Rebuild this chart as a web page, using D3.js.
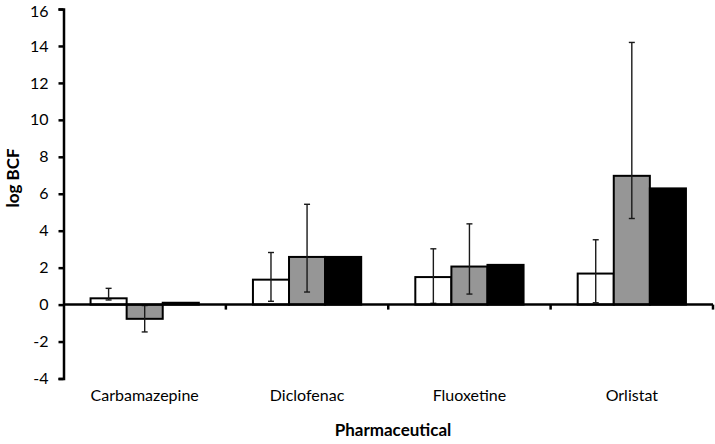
<!DOCTYPE html>
<html>
<head>
<meta charset="utf-8">
<script src="https://cdn.jsdelivr.net/npm/d3@7"></script>
<style>
  html, body { margin: 0; padding: 0; background: #fff; }
  svg { display: block; }
  text { font-family: Lato, "Open Sans", sans-serif; fill: #000; }
</style>
</head>
<body>
<svg id="chart" width="715" height="444"></svg>
<script>
// ---- data ----
const categories = ["Carbamazepine", "Diclofenac", "Fluoxetine", "Orlistat"];
const seriesNames = ["A", "B", "C"];
const valuesA = [0.34, 1.35, 1.49, 1.68];
const valuesB = [-0.77, 2.58, 2.06, 6.97];
const valuesC = [0.10, 2.58, 2.15, 6.29];
const errLowA = [0.25, 0.18, 0.07, 0.10];
const errHighA = [0.88, 2.82, 3.02, 3.51];
const errLowB = [-1.48, 0.68, 0.57, 4.66];
const errHighB = [-0.05, 5.43, 4.37, 14.19];
const yTicks = [-4, -2, 0, 2, 4, 6, 8, 10, 12, 14, 16];
const xTitle = "Pharmaceutical";
const yTitle = "log BCF";

const seriesValues = [valuesA, valuesB, valuesC];
const seriesLow = [errLowA, errLowB, null];
const seriesHigh = [errHighA, errHighB, null];
const fills = ["#ffffff", "#969696", "#000000"];

// ---- layout ----
const svg = d3.select("#chart");
const mLeft = 63.5, mRight = 713, mTop = 9, mBottom = 378.5;

const y = d3.scaleLinear().domain([-4, 16]).range([mBottom, mTop]);
const x0 = d3.scaleBand().domain(categories).range([mLeft, mRight]).padding(0);
const x1 = d3.scaleBand().domain(seriesNames).range([0, x0.bandwidth()])
  .paddingInner(0).paddingOuter(0.75);

// bars
const rows = [];
categories.forEach((c, ci) => {
  seriesNames.forEach((s, si) => {
    rows.push({c, s, si, v: seriesValues[si][ci],
      lo: seriesLow[si] ? seriesLow[si][ci] : null,
      hi: seriesHigh[si] ? seriesHigh[si][ci] : null});
  });
});

svg.append("g").selectAll("rect").data(rows).join("rect")
  .attr("x", d => x0(d.c) + x1(d.s))
  .attr("width", x1.bandwidth())
  .attr("y", d => y(Math.max(0, d.v)))
  .attr("height", d => Math.abs(y(d.v) - y(0)))
  .attr("fill", d => fills[d.si])
  .attr("stroke", "#000")
  .attr("stroke-width", 2);

// error bars
const eg = svg.append("g").attr("stroke", "#1a1a1a").attr("stroke-width", 1.4);
rows.filter(d => d.lo !== null).forEach(d => {
  const cx = x0(d.c) + x1(d.s) + x1.bandwidth() / 2;
  eg.append("line").attr("x1", cx).attr("x2", cx).attr("y1", y(d.lo)).attr("y2", y(d.hi));
  [d.lo, d.hi].forEach(v => {
    eg.append("line").attr("x1", cx - 3).attr("x2", cx + 3).attr("y1", y(v)).attr("y2", y(v));
  });
});

// y axis
const yAxis = d3.axisLeft(y).tickValues(yTicks).tickSize(5).tickPadding(10).tickFormat(d => String(d));
const gy = svg.append("g").attr("transform", `translate(${mLeft},0)`).call(yAxis);
gy.select(".domain").attr("stroke", "#000").attr("stroke-width", 2.5);
gy.selectAll(".tick line").attr("stroke", "#000").attr("stroke-width", 2.5);
gy.selectAll(".tick text").attr("font-size", 16).attr("font-family", "Lato, sans-serif").attr("fill", "#000")
  .attr("y", d => d === 16 ? 2 : 0);

// x axis at zero
const gx = svg.append("g").attr("transform", `translate(0,${y(0)})`);
gx.append("line").attr("x1", mLeft).attr("x2", mRight).attr("y1", 0).attr("y2", 0)
  .attr("stroke", "#000").attr("stroke-width", 2.5);
const bounds = categories.map(c => x0(c) + x0.bandwidth());
gx.selectAll("line.tk").data(bounds).join("line").attr("class", "tk")
  .attr("x1", d => d).attr("x2", d => d).attr("y1", 0).attr("y2", 5)
  .attr("stroke", "#000").attr("stroke-width", 2.5);

// category labels
svg.append("g").selectAll("text").data(categories).join("text")
  .attr("x", d => x0(d) + x0.bandwidth() / 2)
  .attr("y", 401)
  .attr("text-anchor", "middle")
  .attr("font-size", 16)
  .text(d => d);

// titles
svg.append("text").attr("x", 393).attr("y", 436).attr("text-anchor", "middle")
  .attr("font-size", 17).attr("font-weight", "bold").text(xTitle);
svg.append("text").attr("transform", `translate(19,178) rotate(-90)`)
  .attr("text-anchor", "middle").attr("font-size", 17).attr("font-weight", "bold").text(yTitle);
</script>
</body>
</html>
